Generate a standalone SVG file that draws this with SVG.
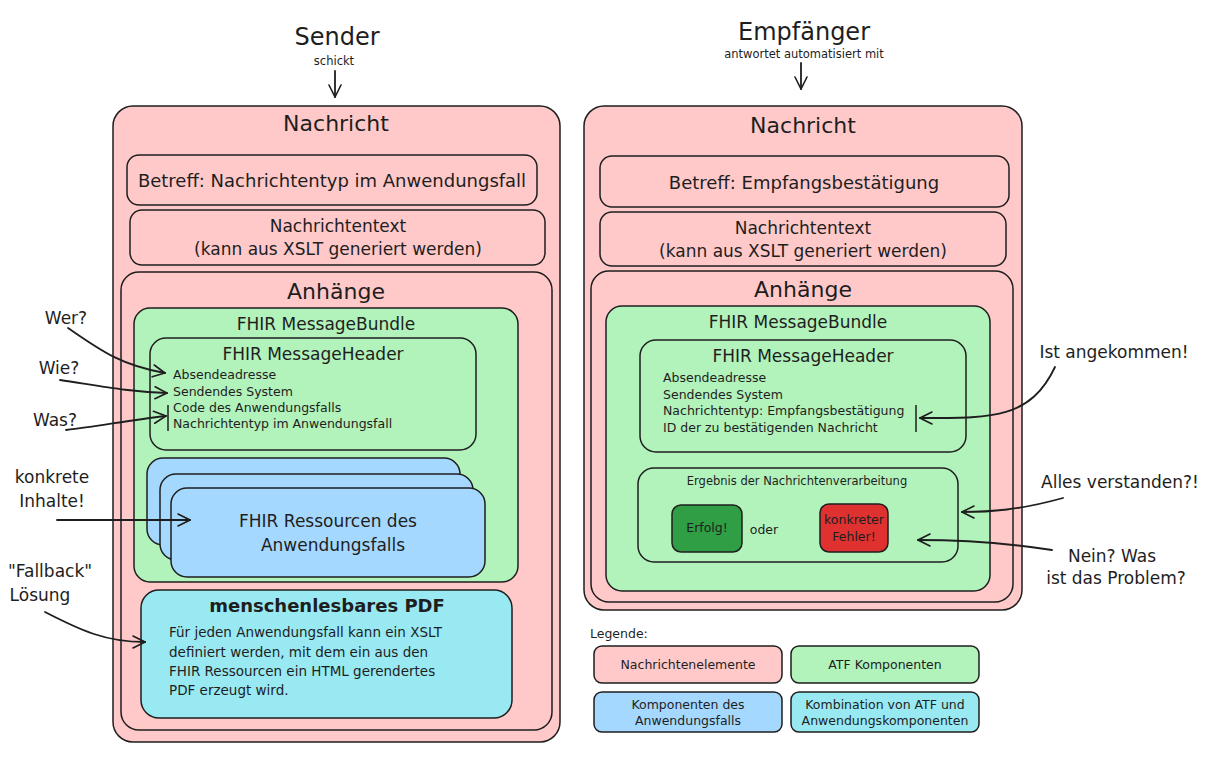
<svg xmlns="http://www.w3.org/2000/svg" width="1213" height="772" viewBox="0 0 1213 772">
<defs>
<style>
text{font-family:"DejaVu Sans","Liberation Sans",sans-serif;fill:#1e1e1e;}
.c{text-anchor:middle;}
.box{stroke:#1e1e1e;stroke-width:1.5;}
.pink{fill:#ffc9c9;}
.green{fill:#b2f2bb;}
.blue{fill:#a5d8ff;}
.cyan{fill:#99e9f2;}
.conn{fill:none;stroke:#1e1e1e;stroke-width:1.8;stroke-linecap:round;}
.t24{font-size:24px;}
.t22{font-size:22px;}
.t18{font-size:18px;}
.t17{font-size:17px;}
.t12{font-size:12.5px;}
.t13{font-size:13.5px;}
.t11{font-size:11.5px;}
</style>
<marker id="ah" viewBox="0 0 14 14" refX="13" refY="7" markerWidth="14" markerHeight="14" markerUnits="userSpaceOnUse" orient="auto">
<path d="M1,1 L13,7 L1,13" fill="none" stroke="#1e1e1e" stroke-width="1.6" stroke-linecap="round"/>
</marker>
</defs>
<rect width="1213" height="772" fill="#ffffff"/>

<g id="sender-title">
<text x="337" y="45" class="c t24">Sender</text>
<text x="334" y="65" class="c t11">schickt</text>
</g>
<g id="empfaenger-title">
<text x="804" y="40" class="c t24">Empfänger</text>
<text x="804" y="58" class="c t11">antwortet automatisiert mit</text>
</g>

<g id="left-nachricht">
<rect x="113" y="106" width="447" height="636" rx="20" class="box pink"/>
<text x="336" y="131" class="c t22">Nachricht</text>
</g>
<g id="left-betreff">
<rect x="127" y="155" width="410" height="50" rx="12" class="box pink"/>
<text x="332" y="187" class="c t18">Betreff: Nachrichtentyp im Anwendungsfall</text>
</g>
<g id="left-text">
<rect x="130" y="210" width="415" height="55" rx="12" class="box pink"/>
<text x="338" y="232" class="c t17">Nachrichtentext</text>
<text x="338" y="255" class="c t17">(kann aus XSLT generiert werden)</text>
</g>
<g id="left-anhaenge">
<rect x="121" y="272" width="431" height="458" rx="18" class="box pink"/>
<text x="336" y="299" class="c t22">Anhänge</text>
</g>
<g id="left-bundle">
<rect x="134" y="308" width="384" height="274" rx="16" class="box green"/>
<text x="326" y="330" class="c t17">FHIR MessageBundle</text>
</g>
<g id="left-header">
<rect x="150" y="338" width="326" height="112" rx="16" class="box green"/>
<text x="313" y="360" class="c t17">FHIR MessageHeader</text>
<text x="173" y="379" class="t12">Absendeadresse</text>
<text x="173" y="396" class="t12">Sendendes System</text>
<text x="173" y="412" class="t12">Code des Anwendungsfalls</text>
<text x="173" y="428" class="t12">Nachrichtentyp im Anwendungsfall</text>
<line x1="168" y1="405" x2="168" y2="431" stroke="#1e1e1e" stroke-width="1.5"/>
</g>
<g id="left-resources">
<rect x="147" y="458" width="313" height="87" rx="16" class="box blue"/>
<rect x="160" y="474" width="313" height="86" rx="16" class="box blue"/>
<rect x="171" y="488" width="314" height="89" rx="16" class="box blue"/>
<text x="328" y="527" class="c t17">FHIR Ressourcen des</text>
<text x="333" y="551" class="c t17">Anwendungsfalls</text>
</g>
<g id="left-pdf">
<rect x="141" y="590" width="371" height="128" rx="18" class="box cyan"/>
<text x="327" y="612" class="c t18" font-weight="bold">menschenlesbares PDF</text>
<text x="169" y="637" class="t13">Für jeden Anwendungsfall kann ein XSLT</text>
<text x="169" y="657" class="t13">definiert werden, mit dem ein aus den</text>
<text x="169" y="676" class="t13">FHIR Ressourcen ein HTML gerendertes</text>
<text x="169" y="695" class="t13">PDF erzeugt wird.</text>
</g>

<g id="left-annotations">
<text x="66" y="324" class="c t17">Wer?</text>
<text x="59" y="374" class="c t17">Wie?</text>
<text x="55" y="426" class="c t17">Was?</text>
<text x="52" y="483" class="c t17">konkrete</text>
<text x="52" y="507" class="c t17">Inhalte!</text>
<text x="50" y="577" class="c t17">"Fallback"</text>
<text x="40" y="601" class="c t17">Lösung</text>
</g>

<g id="right-nachricht">
<rect x="584" y="106" width="438" height="504" rx="20" class="box pink"/>
<text x="803" y="133" class="c t22">Nachricht</text>
</g>
<g id="right-betreff">
<rect x="600" y="156" width="409" height="51" rx="12" class="box pink"/>
<text x="804" y="189" class="c t18">Betreff: Empfangsbestätigung</text>
</g>
<g id="right-text">
<rect x="600" y="212" width="406" height="54" rx="12" class="box pink"/>
<text x="803" y="234" class="c t17">Nachrichtentext</text>
<text x="803" y="257" class="c t17">(kann aus XSLT generiert werden)</text>
</g>
<g id="right-anhaenge">
<rect x="591" y="271" width="422" height="331" rx="18" class="box pink"/>
<text x="803" y="297" class="c t22">Anhänge</text>
</g>
<g id="right-bundle">
<rect x="606" y="306" width="384" height="285" rx="16" class="box green"/>
<text x="798" y="328" class="c t17">FHIR MessageBundle</text>
</g>
<g id="right-header">
<rect x="640" y="340" width="326" height="112" rx="16" class="box green"/>
<text x="803" y="362" class="c t17">FHIR MessageHeader</text>
<text x="663" y="382" class="t12">Absendeadresse</text>
<text x="663" y="399" class="t12">Sendendes System</text>
<text x="663" y="415" class="t12">Nachrichtentyp: Empfangsbestätigung</text>
<text x="663" y="432" class="t12">ID der zu bestätigenden Nachricht</text>
<line x1="916" y1="405" x2="916" y2="432" stroke="#1e1e1e" stroke-width="1.5"/>
</g>
<g id="right-ergebnis">
<rect x="638" y="468" width="320" height="94" rx="16" class="box green"/>
<text x="797" y="485" class="c t11">Ergebnis der Nachrichtenverarbeitung</text>
</g>
<g id="right-erfolg">
<rect x="672" y="505" width="70" height="47" rx="9" class="box" fill="#2f9e44"/>
<text x="707" y="532" class="c t12">Erfolg!</text>
</g>
<g id="right-oder">
<text x="764" y="534" class="c t12">oder</text>
</g>
<g id="right-fehler">
<rect x="820" y="504" width="68" height="48" rx="9" class="box" fill="#e03131"/>
<text x="854" y="524" class="c t12">konkreter</text>
<text x="854" y="541" class="c t12">Fehler!</text>
</g>

<g id="right-annotations">
<text x="1114" y="358" class="c t17">Ist angekommen!</text>
<text x="1120" y="488" class="c t17">Alles verstanden?!</text>
<text x="1112" y="562" class="c t17">Nein? Was</text>
<text x="1116" y="584" class="c t17">ist das Problem?</text>
</g>

<g id="legend">
<text x="590" y="638" class="t12">Legende:</text>
<rect x="594" y="646" width="188" height="37" rx="8" class="box pink"/>
<text x="688" y="669" class="c t12">Nachrichtenelemente</text>
<rect x="791" y="646" width="188" height="37" rx="8" class="box green"/>
<text x="885" y="669" class="c t12">ATF Komponenten</text>
<rect x="594" y="692" width="188" height="40" rx="8" class="box blue"/>
<text x="688" y="709" class="c t12">Komponenten des</text>
<text x="688" y="725" class="c t12">Anwendungsfalls</text>
<rect x="791" y="692" width="188" height="40" rx="8" class="box cyan"/>
<text x="885" y="709" class="c t12">Kombination von ATF und</text>
<text x="885" y="725" class="c t12">Anwendungskomponenten</text>
</g>

<g id="connectors">
<path class="conn" d="M335,71 L335,97" marker-end="url(#ah)"/>
<path class="conn" d="M801,63 L801,89" marker-end="url(#ah)"/>
<path class="conn" d="M68,328 C100,350 120,365 165,373" marker-end="url(#ah)"/>
<path class="conn" d="M60,380 C100,386 130,392 167,393" marker-end="url(#ah)"/>
<path class="conn" d="M66,430 C100,426 130,420 166,416" marker-end="url(#ah)"/>
<path class="conn" d="M57,520 L190,520" marker-end="url(#ah)"/>
<path class="conn" d="M45,612 C80,630 105,642 145,642" marker-end="url(#ah)"/>
<path class="conn" d="M1055,367 C1030,420 990,418 920,418" marker-end="url(#ah)"/>
<path class="conn" d="M1063,498 C1020,510 990,512 962,512" marker-end="url(#ah)"/>
<path class="conn" d="M1052,550 C1000,542 960,540 918,540" marker-end="url(#ah)"/>
</g>
</svg>
